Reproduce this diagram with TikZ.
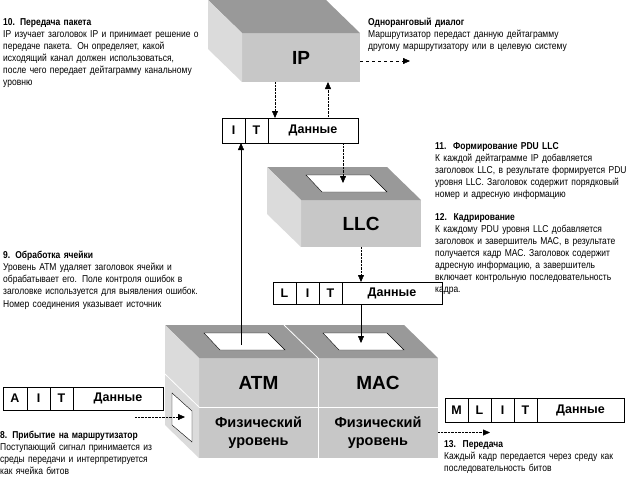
\documentclass[tikz,border=0pt]{standalone}
\usepackage{fontspec}
\setmainfont{Liberation Sans}
\newfontfamily\narrowfont[FakeStretch=0.85]{Liberation Sans}
\usetikzlibrary{positioning, arrows.meta}

\definecolor{topgray}{gray}{0.6}
\definecolor{frontgray}{gray}{0.78}
\definecolor{sidegray}{gray}{0.86}

% one justified line of a note
\newcommand\jl[1]{\makebox[\linewidth][s]{#1}\\}

\begin{document}
\begin{tikzpicture}[
    x=1pt, y=-1pt,
    front/.style={fill=frontgray, inner sep=0pt, outer sep=0pt, font=\fontsize{19}{22}\selectfont\bfseries},
    phy/.style={front, align=center, font=\fontsize{14.5}{18}\selectfont\bfseries},
    cell/.style={draw, fill=white, inner sep=0pt, outer sep=0pt, minimum width=23pt, minimum height=23pt, font=\fontsize{12.5}{14}\selectfont\bfseries},
    window/.style={draw, fill=white, thin},
    divider/.style={draw=white, line width=0.8pt},
    note/.style={anchor=north west, inner sep=0pt, align=left, font=\narrowfont\fontsize{10}{12.1}\selectfont},
    arrow/.style={-{Triangle[length=7pt, width=6pt]}, thin},
    dotted_arrow/.style={arrow, densely dotted},
    dashed_arrow/.style={arrow, dashed},
]
\useasboundingbox (0,0) rectangle (633,480);

%% BOXES
    % front faces
    \node[front, minimum width=118pt, minimum height=49pt] (ip) at (301,57.5) {IP};
    \node[front, minimum width=120pt, minimum height=47pt] (llc) at (361,223.5) {LLC};
    \node[front, minimum width=119pt, minimum height=49pt] (atm) at (258.5,382.5) {ATM};
    \node[front, minimum width=120pt, minimum height=49pt] (mac) at (378,382.5) {MAC};
    \node[phy, minimum width=119pt, minimum height=51pt] (phy_atm) at (258.5,432.5) {Физический\\уровень};
    \node[phy, minimum width=120pt, minimum height=51pt] (phy_mac) at (378,432.5) {Физический\\уровень};

    % top and side faces
    \foreach \tl/\tr/\bl in {ip/ip/ip, llc/llc/llc, atm/mac/phy_atm} {
        \fill[topgray] (\tl.north west) -- ([shift={(-34,-33)}]\tl.north west)
            -- ([shift={(-34,-33)}]\tr.north east) -- (\tr.north east) -- cycle;
        \fill[sidegray] (\tl.north west) -- ([shift={(-34,-33)}]\tl.north west)
            -- ([shift={(-34,-33)}]\bl.south west) -- (\bl.south west) -- cycle;
    }

    \draw[divider] (atm.north east) -- ([shift={(-34,-33)}]atm.north east);
    \draw[divider] (atm.north east) -- (phy_atm.south east);
    \draw[divider] (phy_atm.north west) -- (phy_mac.north east);
    \draw[divider] (phy_atm.north west) -- ([shift={(-34,-33)}]phy_atm.north west);

    % windows
    \foreach \b in {llc, atm, mac} {
        \draw[window] ([shift={(5,-25)}]\b.north west) -- ([shift={(69,-25)}]\b.north west)
            -- ([shift={(86,-8)}]\b.north west) -- ([shift={(21,-8)}]\b.north west) -- cycle;
    }
    \draw[window] ([shift={(-27,-14)}]phy_atm.north west) -- ([shift={(-7,4)}]phy_atm.north west)
        -- ([shift={(-7,35)}]phy_atm.north west) -- ([shift={(-27,18)}]phy_atm.north west) -- cycle;

%% PACKETS
    \node[cell, minimum height=25pt] (p1_i) at (233.5,130.5) {I};
    \node[cell, minimum height=25pt, right=0pt of p1_i] (p1_t) {T};
    \node[cell, minimum height=25pt, minimum width=90pt, right=0pt of p1_t] (p1_data) {Данные};

    \node[cell, minimum height=22pt] (p2_l) at (284.5,293) {L};
    \node[cell, minimum height=22pt, right=0pt of p2_l] (p2_i) {I};
    \node[cell, minimum height=22pt, right=0pt of p2_i] (p2_t) {T};
    \node[cell, minimum height=22pt, minimum width=100pt, right=0pt of p2_t] (p2_data) {Данные};

    \node[cell, minimum width=24pt] (p3_a) at (15,398.5) {A};
    \node[cell, right=0pt of p3_a] (p3_i) {I};
    \node[cell, right=0pt of p3_i] (p3_t) {T};
    \node[cell, minimum width=90pt, right=0pt of p3_t] (p3_data) {Данные};

    \node[cell, minimum height=24pt] (p4_m) at (456.5,410) {M};
    \node[cell, minimum height=24pt, right=0pt of p4_m] (p4_l) {L};
    \node[cell, minimum height=24pt, right=0pt of p4_l] (p4_i) {I};
    \node[cell, minimum height=24pt, right=0pt of p4_i] (p4_t) {T};
    \node[cell, minimum height=24pt, minimum width=87pt, right=0pt of p4_t] (p4_data) {Данные};

%% ARROWS
    \coordinate (peer_end) at (410,61);
    \coordinate (wire_in) at (135,417);
    \coordinate (wire_out) at (490,432.5);

    \draw[dotted_arrow] ([shift={(-26,0)}]ip.south) -- ([shift={(-26,0)}]ip.south |- p1_data.north);
    \draw[dotted_arrow] ([shift={(27,0)}]ip.south |- p1_data.north) -- ([shift={(27,0)}]ip.south);
    \draw[dashed_arrow] ([shift={(0,3.5)}]ip.east) -- (peer_end);
    \draw[dotted_arrow] ([shift={(30,0)}]p1_data.south) -- ([shift={(-18,-17)}]llc.north);
    \draw[dotted_arrow] (llc.south) -- (llc.south |- p2_data.north);
    \draw[arrow] ([shift={(-31,0)}]p2_data.south) -- ([shift={(-17,-15)}]mac.north);
    \draw[arrow] ([shift={(-17.5,-13)}]atm.north) -- ([shift={(7.5,0)}]p1_i.south);
    \draw[dotted_arrow] (wire_in) -- ([shift={(-14,10)}]phy_atm.north west);
    \draw[dotted_arrow] (phy_mac.east) -- (wire_out);

%% NOTES
    \node[note, text width=197pt] (note_ip) at (3,18) {\textbf{10. Передача пакета}\\
        \jl{IP изучает заголовок IP и принимает решение о}
        \jl{передаче пакета. Он определяет, какой}
        \jl{исходящий канал должен использоваться,}
        \jl{после чего передает дейтаграмму канальному}
        уровню};
    \node[note, text width=212pt] (note_peer) at (368,18) {\textbf{Одноранговый диалог}\\
        \jl{Маршрутизатор передаст данную дейтаграмму}
        другому маршрутизатору или в целевую систему};
    \node[note, text width=197pt] (note_llc) at (435,142) {\textbf{11.\ \ Формирование PDU LLC}\\
        \jl{К каждой дейтаграмме IP добавляется}
        \jl{заголовок LLC, в результате формируется PDU}
        \jl{уровня LLC. Заголовок содержит порядковый}
        номер и адресную информацию};
    \node[note, text width=197pt] (note_mac) at (435,213) {\textbf{12.\ \ Кадрирование}\\
        \jl{К каждому PDU уровня LLC добавляется}
        \jl{заголовок и завершитель МАС, в результате}
        \jl{получается кадр МАС. Заголовок содержит}
        \jl{адресную информацию, а завершитель}
        \jl{включает контрольную последовательность}
        кадра.};
    \node[note, text width=207pt] (note_atm) at (3,251) {\textbf{9. Обработка ячейки}\\
        \jl{Уровень АТМ удаляет заголовок ячейки и}
        \jl{обрабатывает его. Поле контроля ошибок в}
        \jl{заголовке используется для выявления ошибок.}
        Номер соединения указывает источник};
    \node[note, text width=163pt] (note_in) at (0,431) {\textbf{8. Прибытие на маршрутизатор}\\
        \jl{Поступающий сигнал принимается из}
        \jl{среды передачи и интерпретируется}
        как ячейка битов};
    \node[note, text width=186pt] (note_out) at (444,440) {\textbf{13.\ \ Передача}\\
        \jl{Каждый кадр передается через среду как}
        последовательность битов};

\end{tikzpicture}
\end{document}
